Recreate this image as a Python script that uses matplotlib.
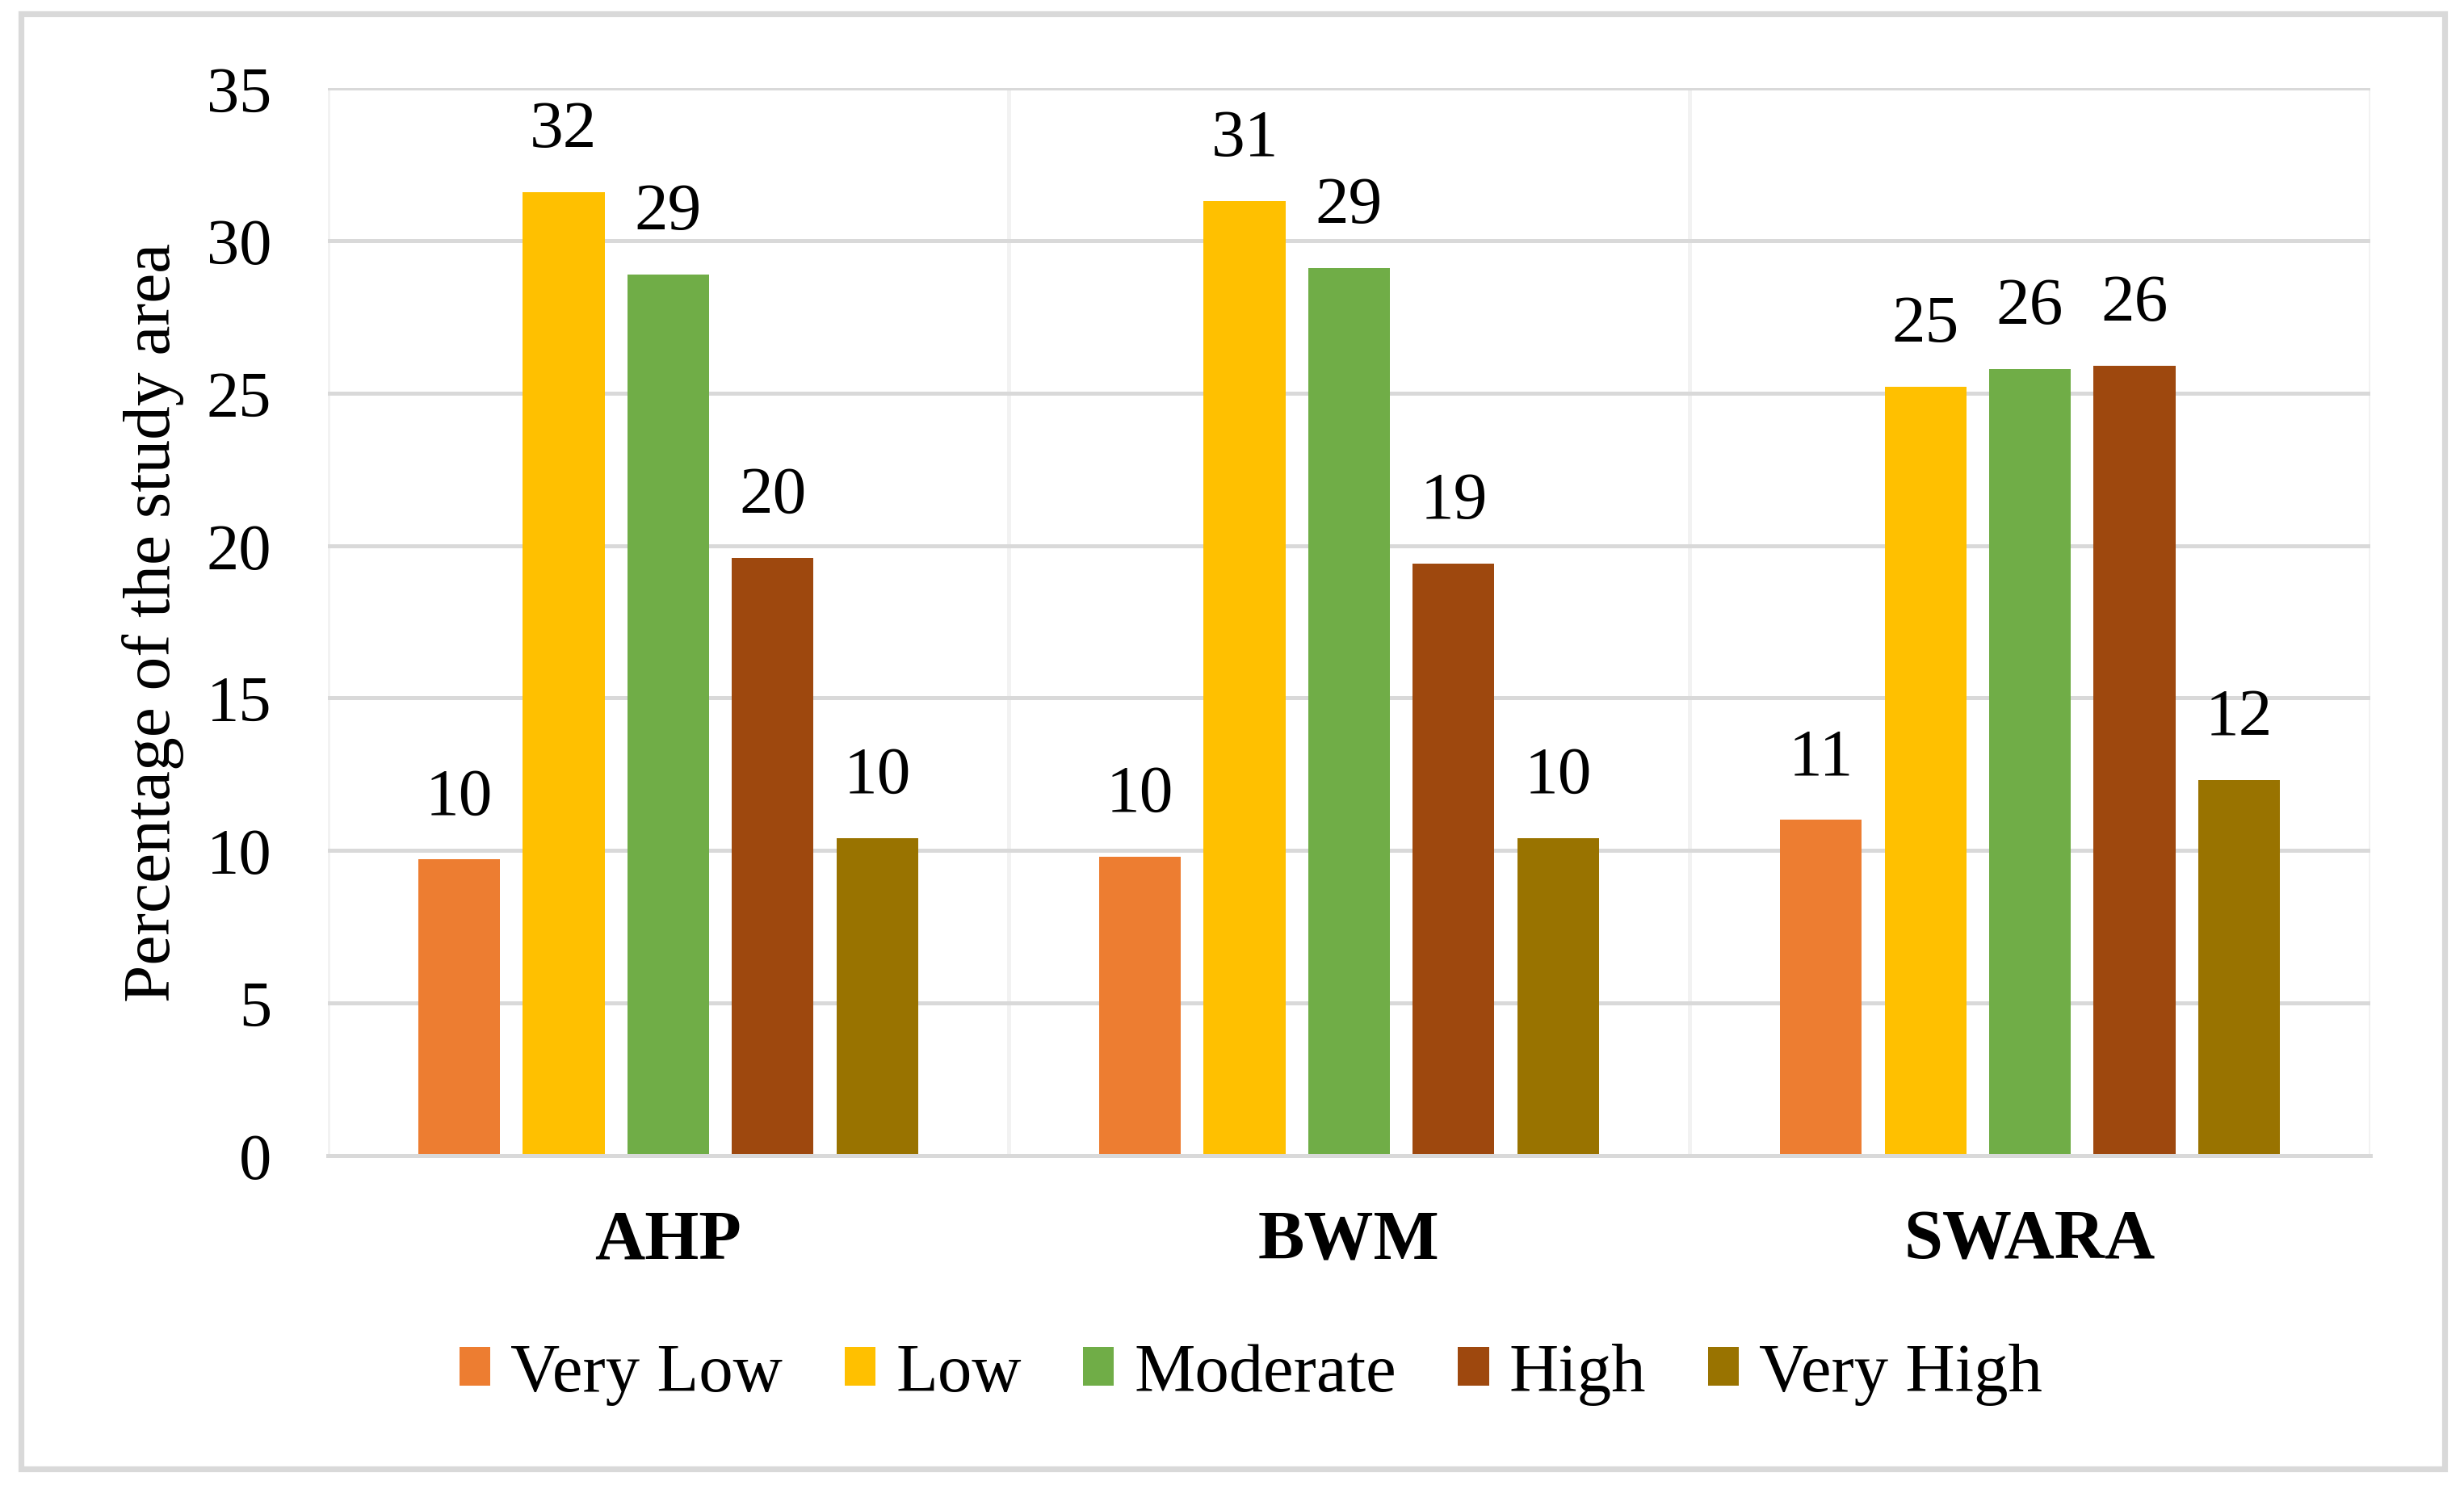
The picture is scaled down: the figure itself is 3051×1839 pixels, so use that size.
import matplotlib
matplotlib.use('Agg')
import matplotlib.pyplot as plt
from matplotlib.patches import Rectangle
import numpy as np

plt.rcParams['font.family'] = ['Liberation Serif', 'DejaVu Serif']

methods = ['AHP', 'BWM', 'SWARA']
classes = ['Very Low', 'Low', 'Moderate', 'High', 'Very High']
very_low = [9.7, 9.8, 11.0]
low = [31.6, 31.3, 25.2]
moderate = [28.9, 29.1, 25.8]
high = [19.6, 19.4, 25.9]
very_high = [10.4, 10.4, 12.3]
colors = ['#ED7D31', '#FFC000', '#70AD47', '#9E480E', '#997300']
yticks = [0, 5, 10, 15, 20, 25, 30, 35]

series = [very_low, low, moderate, high, very_high]

fig = plt.figure(figsize=(15.255, 9.2), dpi=200)
ax = fig.add_axes([0.133, 0.222, 0.829, 0.718])

# outer chart border
fig.patches.append(Rectangle((0.0085, 0.011), 0.9835, 0.979, transform=fig.transFigure,
                             fill=False, edgecolor='#D9D9D9', linewidth=2.6))

x = np.arange(len(methods))
step = 0.1535
width = 0.12
for i, (vals, col, name) in enumerate(zip(series, colors, classes)):
    bars = ax.bar(x + (i - 2) * step, vals, width, color=col, label=name, zorder=3)
    ax.bar_label(bars, labels=[f'{round(v)}' for v in vals], padding=14, fontsize=30)

ax.set_xlim(-0.5, 2.5)
ax.set_ylim(0, 35)
ax.set_yticks(yticks)
ax.set_xticks(x)
ax.set_xticklabels(methods, fontsize=31, fontweight='bold')
ax.tick_params(axis='y', length=0, pad=25, labelsize=29)
ax.tick_params(axis='x', length=0, pad=24)
ax.set_ylabel('Percentage of the study area', fontsize=30, labelpad=10)

ax.grid(axis='y', color='#D9D9D9', linewidth=1.8, zorder=0)
for xv in [-0.5, 0.5, 1.5, 2.5]:
    ax.axvline(xv, color='#F2F2F2', linewidth=1.8, zorder=1)
for s in ['top', 'right', 'left']:
    ax.spines[s].set_visible(False)
ax.spines['bottom'].set_color('#D9D9D9')
ax.spines['bottom'].set_linewidth(1.8)
ax.spines['bottom'].set_zorder(4)

ax.legend(loc='center', bbox_to_anchor=(0.452, -0.205), ncol=5, frameon=False,
          fontsize=30.5, handlelength=0.45, handleheight=0.5, handletextpad=0.3,
          columnspacing=0.9)

fig.savefig('out.png', dpi=200, facecolor='white')
